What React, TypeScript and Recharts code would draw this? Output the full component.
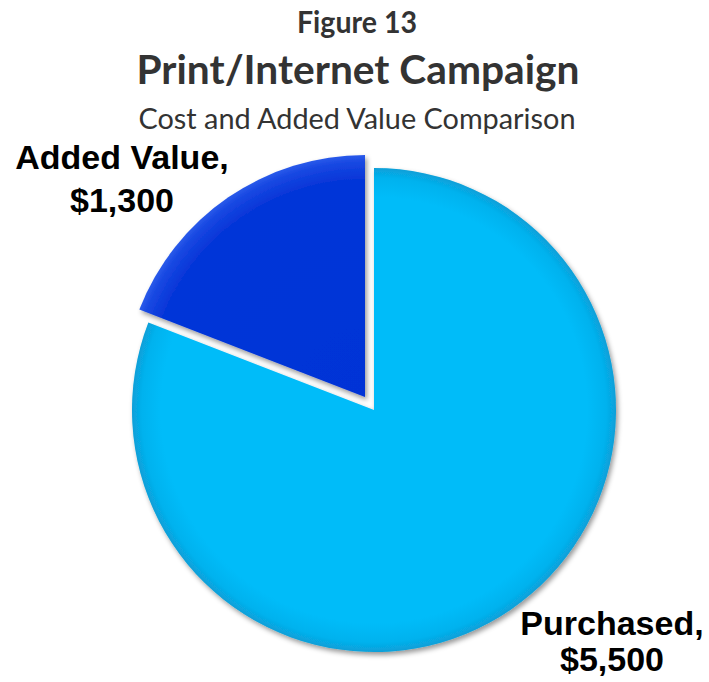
import { PieChart, Pie, Cell } from 'recharts';

// slice data
const categories = ['Added Value', 'Purchased'];
const amounts = [1300, 5500];
const sliceColors = ['#0633D6', '#06BCF9'];

const data = categories.map((name, i) => ({ name, value: amounts[i] }));

const W = 709;
const H = 682;
const CX = 374;
const CY = 410;
const R = 242;
// explode offset for the added value wedge
const EX = -9;
const EY = -13;

// label anchor offsets from the pie center (x centre, first and second baseline)
const labelOffsets = [
  { dx: -252, y1: -241, y2: -198 },
  { dx: 238, y1: 225, y2: 261 },
];

const fmt = (v: number) => '$' + v.toLocaleString('en-US');

const renderLabel = (props: any) => {
  const { cx, cy, index, name, value } = props;
  const o = labelOffsets[index];
  return (
    <text
      textAnchor="middle"
      fontFamily="'Liberation Sans', Arial, sans-serif"
      fontWeight="bold"
      fontSize={34}
      fill="#000"
    >
      <tspan x={cx + o.dx} y={cy + o.y1}>{name},</tspan>
      <tspan x={cx + o.dx} y={cy + o.y2}>{fmt(value)}</tspan>
    </text>
  );
};

export default function App() {
  return (
    <div style={{ position: 'absolute', left: 0, top: 0, width: W, height: H, background: '#fff' }}>
      <svg width={W} height={H} style={{ position: 'absolute', left: 0, top: 0 }}>
        <text x={357} y={33} textAnchor="middle" fontFamily="Lato, sans-serif" fontWeight="bold"
          fontSize={30} fill="#333" textLength={120} lengthAdjust="spacingAndGlyphs">Figure 13</text>
        <text x={358} y={84} textAnchor="middle" fontFamily="Lato, sans-serif" fontWeight="bold"
          fontSize={40} fill="#333" textLength={443} lengthAdjust="spacingAndGlyphs">Print/Internet Campaign</text>
        <text x={357} y={129} textAnchor="middle" fontFamily="Lato, sans-serif"
          fontSize={29} fill="#333" textLength={437} lengthAdjust="spacingAndGlyphs">Cost and Added Value Comparison</text>
      </svg>
      <div style={{ position: 'absolute', left: 0, top: 0 }}>
        <PieChart width={W} height={H} margin={{ top: 0, right: 0, bottom: 0, left: 0 }}>
          <defs>
            <radialGradient id="gradBuy" gradientUnits="userSpaceOnUse" cx={CX} cy={CY} r={R}>
              <stop offset="0%" stopColor={sliceColors[1]} />
              <stop offset="88%" stopColor={sliceColors[1]} />
              <stop offset="96%" stopColor="#05B2EE" />
              <stop offset="100%" stopColor="#089FD8" />
            </radialGradient>
            <radialGradient id="gradAdd" gradientUnits="userSpaceOnUse" cx={CX + EX} cy={CY + EY} r={R}>
              <stop offset="0%" stopColor={sliceColors[0]} />
              <stop offset="90%" stopColor="#0636D8" />
              <stop offset="97%" stopColor="#1848E2" />
              <stop offset="100%" stopColor="#2A5AEA" />
            </radialGradient>
            <filter id="shadow" x="-10%" y="-10%" width="120%" height="120%">
              <feDropShadow dx="2" dy="3" stdDeviation="2.5" floodColor="#000" floodOpacity="0.4" />
            </filter>
          </defs>
          <Pie
            data={data}
            dataKey="value"
            nameKey="name"
            cx={CX}
            cy={CY}
            outerRadius={R}
            startAngle={90}
            endAngle={450}
            stroke="none"
            label={renderLabel}
            labelLine={false}
            isAnimationActive={false}
          >
            {data.map((d, i) => (
              <Cell key={d.name} fill={i === 1 ? 'url(#gradBuy)' : 'transparent'} filter={i === 1 ? 'url(#shadow)' : undefined} />
            ))}
          </Pie>
          <Pie
            data={data}
            dataKey="value"
            nameKey="name"
            cx={CX + EX}
            cy={CY + EY}
            outerRadius={R}
            startAngle={90}
            endAngle={450}
            stroke="none"
            isAnimationActive={false}
          >
            {data.map((d, i) => (
              <Cell key={d.name} fill={i === 0 ? 'url(#gradAdd)' : 'transparent'} filter={i === 0 ? 'url(#shadow)' : undefined} />
            ))}
          </Pie>
        </PieChart>
      </div>
    </div>
  );
}
